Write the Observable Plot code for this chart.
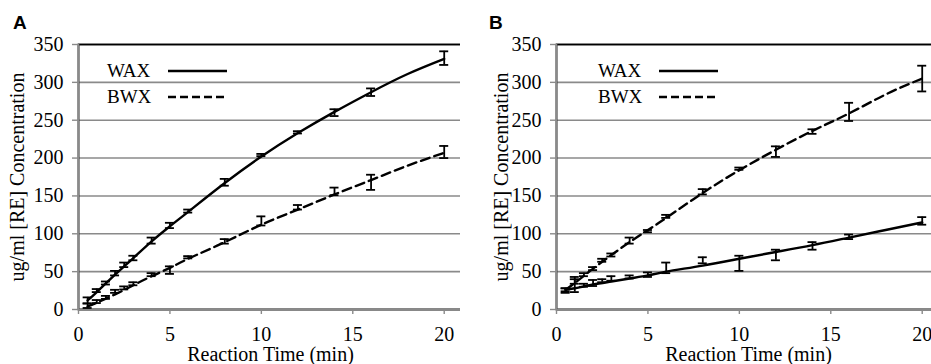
<!DOCTYPE html>
<html><head><meta charset="utf-8">
<script src="https://cdn.jsdelivr.net/npm/d3@7"></script>
<script src="https://cdn.jsdelivr.net/npm/@observablehq/plot@0.6"></script>
<style>
body{margin:0;background:#fff;}
#wrap{position:relative;width:931px;height:364px;overflow:hidden;background:#fff;font-family:'Liberation Serif','Times New Roman',Times,serif;}
.panel{position:absolute;top:0;}
.letter{position:absolute;font-family:'Liberation Sans',Arial,sans-serif;font-weight:bold;font-size:19px;line-height:1;}
.legend{position:absolute;font-family:'Liberation Serif','Times New Roman',Times,serif;font-size:19px;line-height:1;display:flex;align-items:center;}
.legend svg{margin-left:14px;}
</style></head><body>
<div id="wrap"></div>
<script>
// sample times (min)
const times = [0.5, 1, 1.5, 2, 2.5, 3, 4, 5, 6, 8, 10, 12, 14, 16, 20];
// Panel A measured means and error half-widths
const aWaxMean = [12, 25, 35, 48, 59, 68, 91, 111, 130, 168, 204, 234, 260, 287, 332];
const aWaxErr  = [4, 2, 2, 3, 3, 3, 4, 3.5, 2, 4.5, 1.5, 1.5, 4.5, 5, 9];
const aBwxMean = [5, 10.5, 16, 24, 28.5, 34, 46, 52, 69, 90, 117, 135, 156, 168, 208];
const aBwxErr  = [3, 2, 2, 2, 2, 2, 2, 5, 1.5, 3, 6, 3, 5, 10, 8];
// Panel B measured means and error half-widths
const bWaxMean = [25, 33, 32, 35, 38, 41, 43, 46, 55, 65, 61, 72, 84, 96, 117];
const bWaxErr  = [3, 10, 2, 4, 2, 3, 2, 3, 7, 4, 10, 7, 5, 3, 5];
const bBwxMean = [26, 37, 46, 54, 65, 72, 91, 103.5, 123, 155.5, 186, 208.5, 235, 261, 305];
const bBwxErr  = [2, 3, 2, 2, 2, 2, 4, 1.5, 2, 3.5, 1.5, 7, 3, 12, 17];
// trend lines
const trendX    = [0.5, 1, 2, 3, 4, 5, 6, 8, 10, 12, 14, 16, 18, 20];
const aWaxTrend = [12, 23, 46, 68, 90, 110, 129, 167, 202, 233, 261, 287, 311, 331];
const aBwxTrend = [4, 9, 20, 32, 44, 55, 67, 89, 112, 132, 152, 171, 190, 207];
const bWaxTrend = [26, 28, 33, 37, 41, 45, 50, 58, 67, 76, 85, 95, 105, 115];
const bBwxTrend = [26, 35, 54, 72, 89, 105, 121, 154, 184, 211, 236, 259, 284, 305];
// axis ticks and labels
const xTicks = [0, 5, 10, 15, 20];
const yTicks = [0, 50, 100, 150, 200, 250, 300, 350];
const xLabel = "Reaction Time (min)";
const yLabel = "ug/ml [RE] Concentration";
const seriesNames = ["WAX", "BWX"];

const DASH = "9,5";
const FONT = "'Liberation Serif','Times New Roman',Times,serif";

function makePanel({wax, waxErr, bwx, bwxErr, waxTrend, bwxTrend, marginLeft, labelOffset, width}) {
  const pts = (means, errs) => times.map((t, i) => ({t, lo: means[i] - errs[i], hi: means[i] + errs[i]}));
  const errs = [...pts(wax, waxErr), ...pts(bwx, bwxErr)];
  const tr = vals => trendX.map((t, i) => ({t, v: vals[i]}));
  return Plot.plot({
    width, height: 364,
    marginLeft, marginRight: 3, marginTop: 44, marginBottom: 55,
    style: {fontFamily: FONT, fontSize: "20px", background: "white", color: "black", overflow: "visible"},
    x: {domain: [0, 21]},
    y: {domain: [0, 350]},
    marks: [
      Plot.gridY(yTicks, {stroke: "#8a8a8a", strokeOpacity: 1, strokeWidth: 1.6}),
      Plot.frame({stroke: "black", strokeWidth: 1.8}),
      Plot.ruleX([0], {stroke: "#8a8a8a", strokeWidth: 1.6}),
      Plot.ruleY([0], {stroke: "#8a8a8a", strokeWidth: 1.6}),
      Plot.axisY(yTicks, {tickSize: 6, tickPadding: 9, stroke: "#8a8a8a", strokeWidth: 1.4, fill: "black", fontSize: 20,
        label: yLabel, labelAnchor: "center", labelOffset, labelArrow: "none"}),
      Plot.axisX(xTicks, {tickSize: 5, tickPadding: 12, stroke: "#8a8a8a", strokeWidth: 1.4, fill: "black", fontSize: 20,
        label: xLabel, labelAnchor: "center", labelOffset: 51, labelArrow: "none"}),
      Plot.line(tr(waxTrend), {x: "t", y: "v", curve: "natural", stroke: "black", strokeWidth: 2.4}),
      Plot.line(tr(bwxTrend), {x: "t", y: "v", curve: "natural", stroke: "black", strokeWidth: 2.4, strokeDasharray: DASH}),
      Plot.ruleX(errs, {x: "t", y1: "lo", y2: "hi", stroke: "black", strokeWidth: 1.8}),
      Plot.ruleY(errs, {y: "lo", x1: "t", x2: "t", insetLeft: -4.5, insetRight: -4.5, stroke: "black", strokeWidth: 1.8}),
      Plot.ruleY(errs, {y: "hi", x1: "t", x2: "t", insetLeft: -4.5, insetRight: -4.5, stroke: "black", strokeWidth: 1.8})
    ]
  });
}

function legend(left, top) {
  const wrap = document.createElement("div");
  seriesNames.forEach((name, i) => {
    const row = document.createElement("div");
    row.className = "legend";
    row.style.left = left + "px";
    row.style.top = (top + i * 26) + "px";
    row.innerHTML = `<span style="width:47px;display:inline-block">${name}</span><svg width="60" height="6"><line x1="0" x2="59" y1="3" y2="3" stroke="black" stroke-width="2.6" ${i === 1 ? 'stroke-dasharray="8,4"' : ''}/></svg>`;
    wrap.appendChild(row);
  });
  return wrap;
}

const root = document.getElementById("wrap");
const pA = makePanel({wax: aWaxMean, waxErr: aWaxErr, bwx: aBwxMean, bwxErr: aBwxErr,
  waxTrend: aWaxTrend, bwxTrend: aBwxTrend, marginLeft: 78, labelOffset: 69, width: 465});
pA.classList.add("panel"); pA.style.left = "0px";
const pB = makePanel({wax: bWaxMean, waxErr: bWaxErr, bwx: bBwxMean, bwxErr: bBwxErr,
  waxTrend: bWaxTrend, bwxTrend: bBwxTrend, marginLeft: 96, labelOffset: 63, width: 483});
pB.classList.add("panel"); pB.style.left = "460px";
root.appendChild(pA);
root.appendChild(pB);
// force serif on every text of the plots
d3.selectAll("#wrap svg text").style("font-family", FONT).style("font-variant", "normal");
const la = document.createElement("div"); la.className = "letter"; la.textContent = "A"; la.style.left = "13px"; la.style.top = "13px";
const lb = document.createElement("div"); lb.className = "letter"; lb.textContent = "B"; lb.style.left = "489px"; lb.style.top = "13px";
root.appendChild(la); root.appendChild(lb);
root.appendChild(legend(107, 61));
root.appendChild(legend(598, 61));
</script>
</body></html>
